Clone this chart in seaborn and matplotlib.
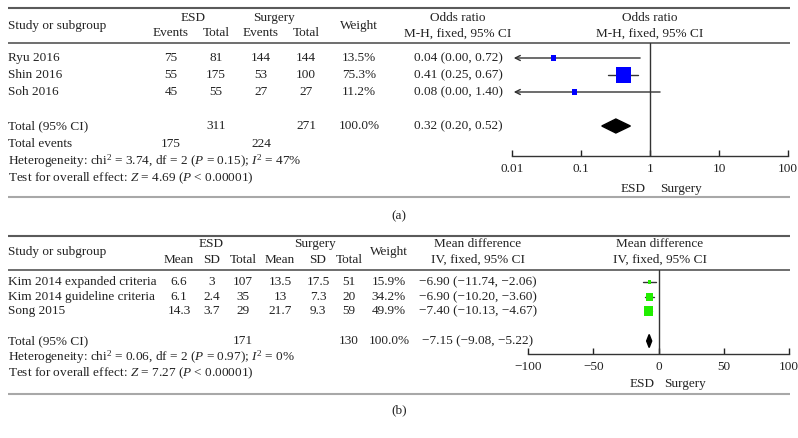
import numpy as np
import pandas as pd
import matplotlib
matplotlib.use("Agg")
import matplotlib.pyplot as plt
import seaborn as sns
from matplotlib.patches import Polygon
from matplotlib.ticker import NullLocator

# ---- panel (a): odds ratio ----
a_studies = ["Ryu 2016", "Shin 2016", "Soh 2016"]
a_esd_events = [75, 55, 45]
a_esd_total = [81, 175, 55]
a_sur_events = [144, 53, 27]
a_sur_total = [144, 100, 27]
a_weight = [13.5, 75.3, 11.2]
a_or = [0.04, 0.41, 0.08]
a_lo = [0.00, 0.25, 0.00]
a_hi = [0.72, 0.67, 1.40]
a_tot_esd, a_tot_sur = 311, 271
a_events_esd, a_events_sur = 175, 224
a_tot_or, a_tot_lo, a_tot_hi = 0.32, 0.20, 0.52
a_het = "Heterogeneity: chi$^2$ = 3.74, df = 2 ($P$ = 0.15); $I^2$ = 47%"
a_test = "Test for overall effect: $Z$ = 4.69 ($P$ < 0.00001)"
a_ticks = [0.01, 0.1, 1, 10, 100]
a_ticklabels = ["0.01", "0.1", "1", "10", "100"]

# ---- panel (b): mean difference ----
b_studies = ["Kim 2014 expanded criteria", "Kim 2014 guideline criteria", "Song 2015"]
b_esd_mean = [6.6, 6.1, 14.3]
b_esd_sd = [3, 2.4, 3.7]
b_esd_total = [107, 35, 29]
b_sur_mean = [13.5, 13, 21.7]
b_sur_sd = [17.5, 7.3, 9.3]
b_sur_total = [51, 20, 59]
b_weight = [15.9, 34.2, 49.9]
b_md = [-6.90, -6.90, -7.40]
b_lo = [-11.74, -10.20, -10.13]
b_hi = [-2.06, -3.60, -4.67]
b_tot_esd, b_tot_sur = 171, 130
b_tot_md, b_tot_lo, b_tot_hi = -7.15, -9.08, -5.22
b_het = "Heterogeneity: chi$^2$ = 0.06, df = 2 ($P$ = 0.97); $I^2$ = 0%"
b_test = "Test for overall effect: $Z$ = 7.27 ($P$ < 0.00001)"
b_ticks = [-100, -50, 0, 50, 100]
b_ticklabels = ["\u2212100", "\u221250", "0", "50", "100"]

sns.set_theme(style="white")
plt.rcParams["font.family"] = ["Liberation Serif", "DejaVu Serif"]
plt.rcParams["mathtext.fontset"] = "custom"
plt.rcParams["mathtext.rm"] = "Liberation Serif"
plt.rcParams["mathtext.it"] = "Liberation Serif:italic"

W, H = 798, 438
FS = 9.5
INK = "#222222"
fig = plt.figure(figsize=(W / 100, H / 100), dpi=100)
bg = fig.add_axes([0, 0, 1, 1])
bg.set_xlim(0, W)
bg.set_ylim(H, 0)
bg.axis("off")


def txt(x, y, s, ha="center", **kw):
    bg.text(x, y, s, ha=ha, va="center", fontsize=FS, color=INK, **kw)


def rule(y, color="#5a5a5a", lw=1.5):
    bg.plot([8, 790], [y, y], color=color, lw=lw, solid_capstyle="butt")


def px_axes(x0, y0, x1, y1):
    ax = fig.add_axes([x0 / W, 1 - y1 / H, (x1 - x0) / W, (y1 - y0) / H])
    ax.set_facecolor("none")
    for s in ["top", "left", "right"]:
        ax.spines[s].set_visible(False)
    ax.spines["bottom"].set_color("#333333")
    ax.spines["bottom"].set_linewidth(1)
    ax.set_yticks([])
    ax.tick_params(axis="x", direction="in", length=4, width=1, pad=5,
                   labelsize=FS, colors=INK, bottom=True)
    return ax


def fmt_ci(m, lo, hi):
    return f"{m:.2f} ({lo:.2f}, {hi:.2f})".replace("-", "\u2212")


# ================= panel (a) =================
rule(8)
rule(43, "#555555", 1.2)
rule(197, "#a8a8a8", 1.5)
txt(8, 26, "Study or subgroup", ha="left")
txt(193, 18, "ESD")
txt(171, 33, "Events")
txt(216, 33, "Total")
txt(274, 18, "Surgery")
txt(261, 33, "Events")
txt(306, 33, "Total")
txt(359, 26, "Weight")
txt(458, 18, "Odds ratio")
txt(458, 34, "M-H, fixed, 95% CI")
txt(650, 18, "Odds ratio")
txt(650, 34, "M-H, fixed, 95% CI")

a_rows = [58, 75, 92]
a_tot_y = 126
for i, y in enumerate(a_rows):
    txt(8, y, a_studies[i], ha="left")
    txt(171, y, str(a_esd_events[i]))
    txt(216, y, str(a_esd_total[i]))
    txt(261, y, str(a_sur_events[i]))
    txt(306, y, str(a_sur_total[i]))
    txt(359, y, f"{a_weight[i]:.1f}%")
    txt(458, y, fmt_ci(a_or[i], a_lo[i], a_hi[i]))
txt(8, a_tot_y, "Total (95% CI)", ha="left")
txt(216, a_tot_y, str(a_tot_esd))
txt(306, a_tot_y, str(a_tot_sur))
txt(359, a_tot_y, f"{sum(a_weight):.1f}%")
txt(458, a_tot_y, fmt_ci(a_tot_or, a_tot_lo, a_tot_hi))
txt(8, 144, "Total events", ha="left")
txt(171, 144, str(a_events_esd))
txt(261, 144, str(a_events_sur))
txt(8, 161, a_het, ha="left")
txt(8, 178, a_test, ha="left")
txt(633, 189, "ESD")
txt(681, 189, "Surgery")
txt(399, 216, "(a)")

ax_a = px_axes(512, 43, 788, 156)
ax_a.set_xscale("log")
ax_a.set_xlim(0.01, 100)
ax_a.set_ylim(156, 43)
ax_a.xaxis.set_minor_locator(NullLocator())
ax_a.set_xticks(a_ticks)
ax_a.set_xticklabels(a_ticklabels)
ax_a.axvline(1, color="#333333", lw=1)
for i, y in enumerate(a_rows):
    if a_lo[i] <= 0:
        ax_a.annotate("", xy=(0.0106, y), xytext=(a_hi[i], y),
                      arrowprops=dict(arrowstyle="->", color="#333333", lw=1,
                                      shrinkA=0, shrinkB=0, mutation_scale=9))
    else:
        ax_a.plot([a_lo[i], a_hi[i]], [y, y], color="#333333", lw=1)
df_a = pd.DataFrame({"est": a_or, "y": a_rows, "w": a_weight})
sns.scatterplot(data=df_a, x="est", y="y", size="w", sizes=(13, 117),
                marker="s", color="#0000ff", linewidth=0, legend=False,
                ax=ax_a, zorder=3)
ax_a.add_patch(Polygon([[a_tot_lo, a_tot_y], [a_tot_or, a_tot_y - 7],
                        [a_tot_hi, a_tot_y], [a_tot_or, a_tot_y + 7]],
                       closed=True, color="black", zorder=3))
ax_a.set_xlabel("")
ax_a.set_ylabel("")

# ================= panel (b) =================
rule(236)
rule(270, "#555555", 1.2)
rule(394, "#a8a8a8", 1.5)
txt(8, 252, "Study or subgroup", ha="left")
txt(211, 244, "ESD")
txt(179, 260, "Mean")
txt(212, 260, "SD")
txt(243, 260, "Total")
txt(315, 244, "Surgery")
txt(280, 260, "Mean")
txt(318, 260, "SD")
txt(349, 260, "Total")
txt(389, 252, "Weight")
txt(478, 244, "Mean difference")
txt(478, 260, "IV, fixed, 95% CI")
txt(660, 244, "Mean difference")
txt(660, 260, "IV, fixed, 95% CI")

b_rows = [282, 297, 311]
b_tot_y = 341
for i, y in enumerate(b_rows):
    txt(8, y, b_studies[i], ha="left")
    txt(179, y, f"{b_esd_mean[i]:g}")
    txt(212, y, f"{b_esd_sd[i]:g}")
    txt(243, y, str(b_esd_total[i]))
    txt(280, y, f"{b_sur_mean[i]:g}")
    txt(318, y, f"{b_sur_sd[i]:g}")
    txt(349, y, str(b_sur_total[i]))
    txt(389, y, f"{b_weight[i]:.1f}%")
    txt(478, y, fmt_ci(b_md[i], b_lo[i], b_hi[i]))
txt(8, b_tot_y, "Total (95% CI)", ha="left")
txt(243, b_tot_y, str(b_tot_esd))
txt(349, b_tot_y, str(b_tot_sur))
txt(389, b_tot_y, f"{sum(b_weight):.1f}%")
txt(478, b_tot_y, fmt_ci(b_tot_md, b_tot_lo, b_tot_hi))
txt(8, 357, b_het, ha="left")
txt(8, 373, b_test, ha="left")
txt(642, 384, "ESD")
txt(685, 384, "Surgery")
txt(399, 410, "(b)")

ax_b = px_axes(528, 270, 789, 354)
ax_b.set_xlim(-100, 100)
ax_b.set_ylim(354, 270)
ax_b.set_xticks(b_ticks)
ax_b.set_xticklabels(b_ticklabels)
ax_b.axvline(0, color="#333333", lw=1)
for i, y in enumerate(b_rows):
    ax_b.plot([b_lo[i], b_hi[i]], [y, y], color="#333333", lw=1)
df_b = pd.DataFrame({"est": b_md, "y": b_rows, "w": b_weight})
sns.scatterplot(data=df_b, x="est", y="y", size="w", sizes=(8, 42),
                marker="s", color="#22ee00", linewidth=0, legend=False,
                ax=ax_b, zorder=3)
ax_b.add_patch(Polygon([[b_tot_lo, b_tot_y], [b_tot_md, b_tot_y - 6.5],
                        [b_tot_hi, b_tot_y], [b_tot_md, b_tot_y + 6.5]],
                       closed=True, color="black", zorder=3))
ax_b.set_xlabel("")
ax_b.set_ylabel("")

fig.savefig("out.png", dpi=100)
